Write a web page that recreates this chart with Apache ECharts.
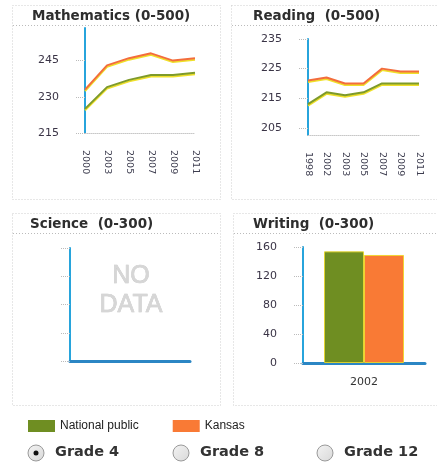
<!DOCTYPE html>
<html><head><meta charset="utf-8">
<script src="https://cdn.jsdelivr.net/npm/echarts@6/dist/echarts.min.js"></script>
<style>html,body{margin:0;padding:0;background:#fff}#c{width:437px;height:462px}</style>
</head><body><div id="c"></div>
<script>
const mathYears = ['2000','2003','2005','2007','2009','2011'];
const mathNational = [225, 234, 237, 239, 239, 240];
const mathKansas = [233, 243, 246, 248, 245, 246];
const mathTicks = [215, 230, 245];

const readYears = ['1998','2002','2003','2005','2007','2009','2011'];
const readNational = [213, 217, 216, 217, 220, 220, 220];
const readKansas = [221, 222, 220, 220, 225, 224, 224];
const readTicks = [205, 215, 225, 235];

const writeYears = ['2002'];
const writeNational = [154];
const writeKansas = [149];
const writeTicks = [0, 40, 80, 120, 160];

const seriesNames = ['National public', 'Kansas'];
const gradeLabels = ['Grade 4', 'Grade 8', 'Grade 12'];

const GREEN = '#6f8e22', ORANGE = '#f97a35';
const LGREEN = '#7e9a2a', LORANGE = '#f36d3c';
const BLUE = '#27a4dc';
const LABEL = '#3a3446';

const chart = echarts.init(document.getElementById('c'), null, {renderer: 'canvas'});

function yAxisCommon(gridIndex, min, max, ticks, showLabel) {
  return {
    type: 'value', gridIndex, min, max,
    splitLine: {show: false},
    axisLine: {show: true, lineStyle: {color: BLUE, width: 2}},
    axisTick: {show: true, length: 10, customValues: ticks, lineStyle: {color: '#bbb', type: 'dotted'}},
    axisLabel: {show: showLabel, customValues: ticks, margin: 26, color: LABEL,
      fontFamily: 'DejaVu Sans', fontSize: 11}
  };
}
function xCat(gridIndex, data, opts) {
  return Object.assign({
    type: 'category', gridIndex, data, boundaryGap: false,
    axisLine: {show: true, lineStyle: {color: '#c8c8c8', type: 'dotted'}},
    axisTick: {show: false},
    axisLabel: {rotate: -90, margin: 17, color: '#3e3e50', fontFamily: 'DejaVu Sans', fontSize: 9.5,
      interval: 0}
  }, opts || {});
}
function lineStyle(c) {
  return {color: c, width: 2, shadowColor: 'rgba(238,222,30,0.95)', shadowBlur: 0, shadowOffsetY: 1.5};
}

const panelStroke = {stroke: '#cfcfcf', lineWidth: 1, lineDash: [1, 2], fill: null};
const graphics = [
  {type: 'rect', shape: {x: 12.5, y: 5.5, width: 208, height: 194}, style: panelStroke, silent: true},
  {type: 'rect', shape: {x: 231.5, y: 5.5, width: 210, height: 194}, style: panelStroke, silent: true},
  {type: 'rect', shape: {x: 12.5, y: 213.5, width: 208, height: 192}, style: panelStroke, silent: true},
  {type: 'rect', shape: {x: 233.5, y: 213.5, width: 210, height: 192}, style: panelStroke, silent: true},
  {type: 'line', shape: {x1: 13, y1: 25.5, x2: 220, y2: 25.5}, style: {stroke: '#bbb', lineDash: [1, 2]}},
  {type: 'line', shape: {x1: 232, y1: 25.5, x2: 437, y2: 25.5}, style: {stroke: '#bbb', lineDash: [1, 2]}},
  {type: 'line', shape: {x1: 13, y1: 233.5, x2: 220, y2: 233.5}, style: {stroke: '#bbb', lineDash: [1, 2]}},
  {type: 'line', shape: {x1: 234, y1: 233.5, x2: 437, y2: 233.5}, style: {stroke: '#bbb', lineDash: [1, 2]}},
  {type: 'text', x: 32, y: 16, style: {text: 'Mathematics (0-500)', font: 'bold 13.5px "DejaVu Sans"', fill: '#2e2e2e', verticalAlign: 'middle'}},
  {type: 'text', x: 253, y: 16, style: {text: 'Reading  (0-500)', font: 'bold 13.5px "DejaVu Sans"', fill: '#2e2e2e', verticalAlign: 'middle'}},
  {type: 'text', x: 30, y: 224, style: {text: 'Science  (0-300)', font: 'bold 13.5px "DejaVu Sans"', fill: '#2e2e2e', verticalAlign: 'middle'}},
  {type: 'text', x: 253, y: 224, style: {text: 'Writing  (0-300)', font: 'bold 13.5px "DejaVu Sans"', fill: '#2e2e2e', verticalAlign: 'middle'}},
  {type: 'text', x: 131, y: 276, style: {text: 'NO', font: '25px "Liberation Sans"', fill: '#d6d6d6', stroke: '#c4c4c4', lineWidth: 0.6, align: 'center', verticalAlign: 'middle'}},
  {type: 'text', x: 131, y: 305, style: {text: 'DATA', font: '25px "Liberation Sans"', fill: '#d6d6d6', stroke: '#c4c4c4', lineWidth: 0.6, align: 'center', verticalAlign: 'middle'}}
];
const radioX = [36, 181, 325];
gradeLabels.forEach((g, i) => {
  graphics.push({type: 'circle', shape: {cx: radioX[i], cy: 453, r: 8},
    style: {fill: new echarts.graphic.LinearGradient(0, 0, 1, 1, [{offset: 0, color: '#f4f4f4'}, {offset: 1, color: '#d8d8d8'}]), stroke: '#9a9a9a', lineWidth: 1}});
  if (i === 0) graphics.push({type: 'circle', shape: {cx: radioX[i], cy: 453, r: 2.5}, style: {fill: '#111'}});
  graphics.push({type: 'text', x: radioX[i] + 19, y: 452, style: {text: g, font: 'bold 14.5px "DejaVu Sans"', fill: '#333', verticalAlign: 'middle'}});
});

const option = {
  animation: false,
  backgroundColor: '#fff',
  legend: {
    data: seriesNames, left: 23, top: 415, icon: 'rect', itemWidth: 27, itemHeight: 12, itemGap: 34,
    itemStyle: {borderWidth: 0},
    textStyle: {fontFamily: 'Liberation Sans', fontSize: 12, color: '#222', padding: [0, 0, 0, 0]},
    selectedMode: false
  },
  grid: [
    {left: 85, top: 28, width: 110, height: 105},
    {left: 308, top: 39, width: 111, height: 96},
    {left: 70, top: 248, width: 120, height: 113},
    {left: 303, top: 247, width: 122, height: 116}
  ],
  xAxis: [
    xCat(0, mathYears),
    xCat(1, readYears),
    {type: 'category', gridIndex: 2, data: [''], axisLine: {show: true, lineStyle: {color: '#2b86c4', width: 3}},
      axisTick: {show: false}, axisLabel: {show: false}},
    {type: 'category', gridIndex: 3, data: writeYears,
      axisLine: {show: true, lineStyle: {color: '#2b86c4', width: 3}},
      axisTick: {show: false},
      axisLabel: {margin: 14, color: '#333', fontFamily: 'DejaVu Sans', fontSize: 11}}
  ],
  yAxis: [
    yAxisCommon(0, 215, 258.5, mathTicks, true),
    yAxisCommon(1, 202.6, 235, readTicks, true),
    Object.assign(yAxisCommon(2, 0, 300, null, false), {interval: 75,
      axisTick: {show: true, length: 10, lineStyle: {color: '#bbb', type: 'dotted'}}}),
    Object.assign(yAxisCommon(3, 0, 160, writeTicks, true), {interval: 40})
  ],
  series: [
    {name: seriesNames[0], type: 'bar', xAxisIndex: 3, yAxisIndex: 3, data: writeNational, barWidth: 40, barGap: '0%',
      itemStyle: {color: GREEN, borderColor: 'rgba(232,214,40,0.9)', borderWidth: 1}},
    {name: seriesNames[1], type: 'bar', xAxisIndex: 3, yAxisIndex: 3, data: writeKansas, barWidth: 40, barGap: '0%',
      itemStyle: {color: ORANGE, borderColor: 'rgba(240,214,40,0.9)', borderWidth: 1}},
    {name: seriesNames[0], type: 'line', xAxisIndex: 0, yAxisIndex: 0, data: mathNational, showSymbol: false, color: LGREEN, lineStyle: lineStyle(LGREEN)},
    {name: seriesNames[1], type: 'line', xAxisIndex: 0, yAxisIndex: 0, data: mathKansas, showSymbol: false, color: LORANGE, lineStyle: lineStyle(LORANGE)},
    {name: seriesNames[0], type: 'line', xAxisIndex: 1, yAxisIndex: 1, data: readNational, showSymbol: false, color: LGREEN, lineStyle: lineStyle(LGREEN)},
    {name: seriesNames[1], type: 'line', xAxisIndex: 1, yAxisIndex: 1, data: readKansas, showSymbol: false, color: LORANGE, lineStyle: lineStyle(LORANGE)}
  ],
  graphic: graphics
};
chart.setOption(option);
</script>
</body></html>
